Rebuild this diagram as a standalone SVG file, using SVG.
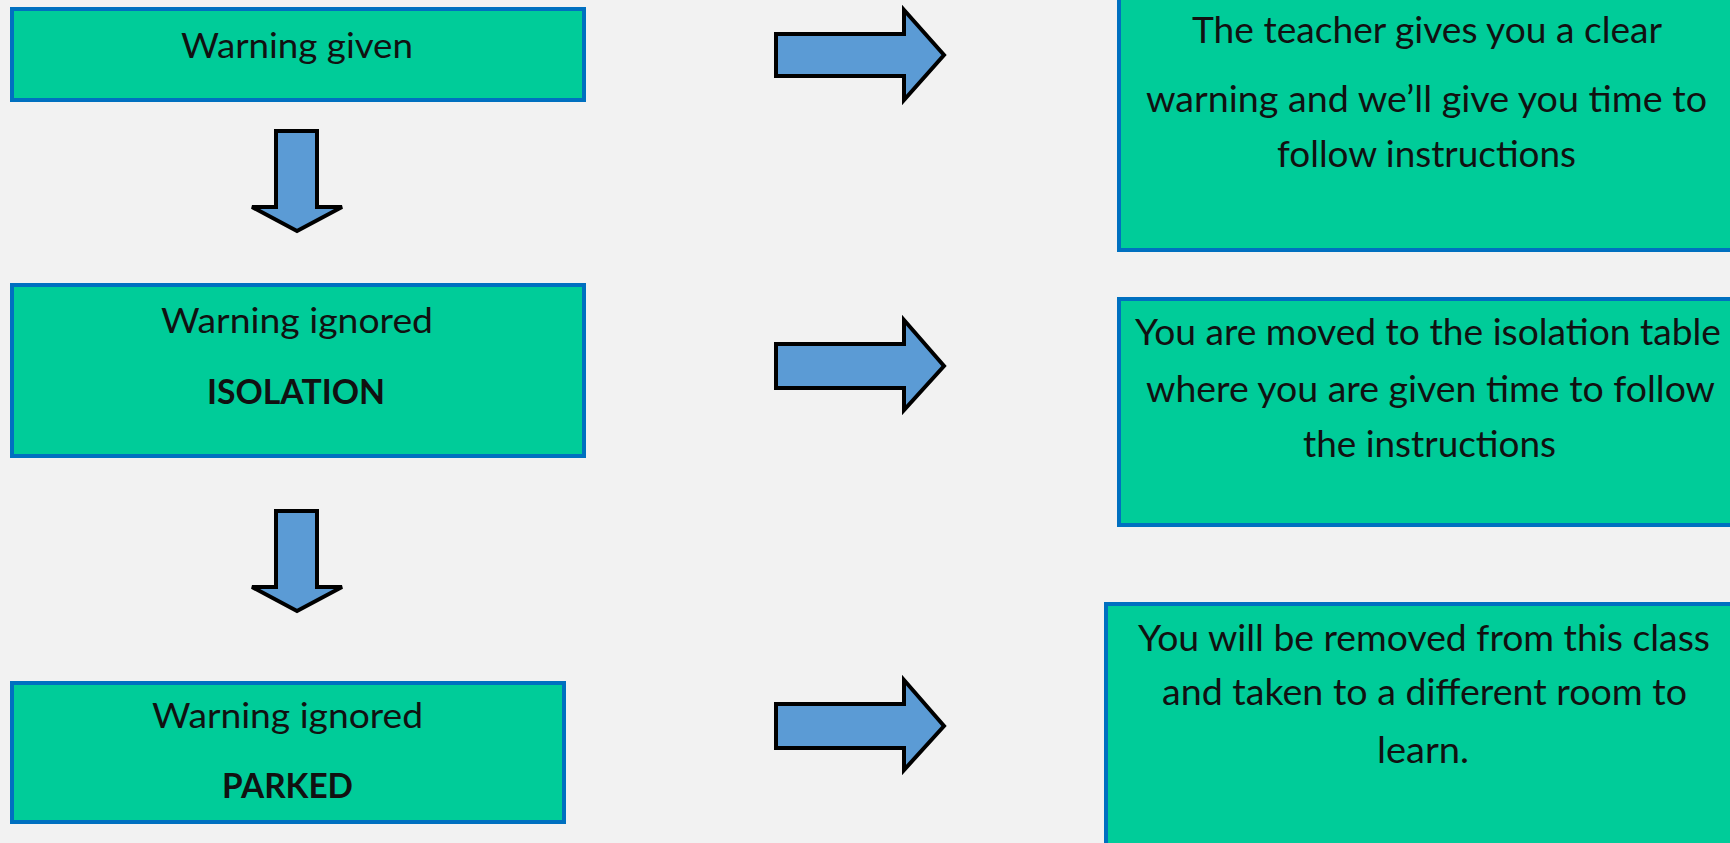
<svg xmlns="http://www.w3.org/2000/svg" width="1730" height="843" viewBox="0 0 1730 843">
<style>
.box{fill:#00CC99;stroke:#0070C0;stroke-width:4}
.arr{fill:#5B9BD5;stroke:#000;stroke-width:4;stroke-linejoin:miter}
text{font-family:Lato,"Open Sans","Liberation Sans",sans-serif;fill:#111}
.l{font-size:34px}
.r{font-size:36px}
.b{font-weight:bold}
</style>
<rect width="1730" height="843" fill="#F2F2F2"/>
<g id="warning-given">
<rect class="box" x="12" y="9" width="572" height="91"/>
<text class="l" x="181" y="58" textLength="232" lengthAdjust="spacingAndGlyphs">Warning given</text>
</g>
<g id="isolation">
<rect class="box" x="12" y="285" width="572" height="171"/>
<text class="l" x="161" y="333" textLength="272" lengthAdjust="spacingAndGlyphs">Warning ignored</text>
<text class="l b" x="207" y="404" textLength="178" lengthAdjust="spacingAndGlyphs">ISOLATION</text>
</g>
<g id="parked">
<rect class="box" x="12" y="683" width="552" height="139"/>
<text class="l" x="152" y="728" textLength="271" lengthAdjust="spacingAndGlyphs">Warning ignored</text>
<text class="l b" x="222" y="798" textLength="131" lengthAdjust="spacingAndGlyphs">PARKED</text>
</g>
<g id="desc-warning">
<rect class="box" x="1119" y="-10" width="640" height="260"/>
<text class="r" x="1192" y="43" textLength="470" lengthAdjust="spacingAndGlyphs">The teacher gives you a clear</text>
<text class="r" x="1146" y="112" textLength="561" lengthAdjust="spacingAndGlyphs">warning and we’ll give you time to</text>
<text class="r" x="1277" y="167" textLength="299" lengthAdjust="spacingAndGlyphs">follow instructions</text>
</g>
<g id="desc-isolation">
<rect class="box" x="1119" y="299" width="640" height="226"/>
<text class="r" x="1135" y="345" textLength="586" lengthAdjust="spacingAndGlyphs">You are moved to the isolation table</text>
<text class="r" x="1146" y="402" textLength="569" lengthAdjust="spacingAndGlyphs">where you are given time to follow</text>
<text class="r" x="1303" y="457" textLength="253" lengthAdjust="spacingAndGlyphs">the instructions</text>
</g>
<g id="desc-parked">
<rect class="box" x="1106" y="604" width="640" height="260"/>
<text class="r" x="1138" y="651" textLength="572" lengthAdjust="spacingAndGlyphs">You will be removed from this class</text>
<text class="r" x="1162" y="705" textLength="525" lengthAdjust="spacingAndGlyphs">and taken to a different room to</text>
<text class="r" x="1377" y="763" textLength="92" lengthAdjust="spacingAndGlyphs">learn.</text>
</g>
<g id="connectors">
<path class="arr" d="M276,131 L317,131 L317,207 L342,207 L297,231 L252,207 L276,207 Z"/>
<path class="arr" d="M276,511 L317,511 L317,587 L342,587 L297,611 L252,587 L276,587 Z"/>
<path class="arr" d="M776,34 L904,34 L904,10 L944,55 L904,100 L904,76 L776,76 Z"/>
<path class="arr" d="M776,344 L904,344 L904,320 L944,366 L904,410 L904,388 L776,388 Z"/>
<path class="arr" d="M776,704 L904,704 L904,680 L944,726 L904,770 L904,748 L776,748 Z"/>
</g>
</svg>
